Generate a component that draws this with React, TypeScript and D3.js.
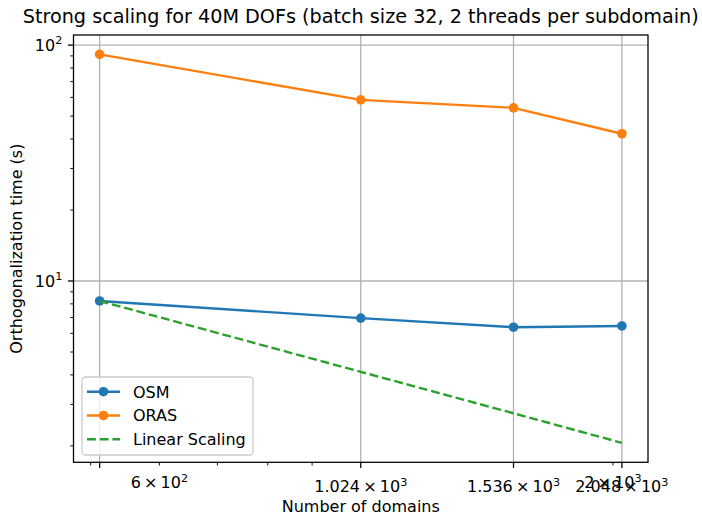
import React, { useEffect, useRef } from "react";
import * as d3 from "d3";

// data
const domains = [512, 1024, 1536, 2048];
const osmTime = [8.23, 6.96, 6.37, 6.45];
const orasTime = [91.3, 58.6, 54.2, 42.1];
const linearTime = [8.23, 4.12, 2.75, 2.06];

const seriesNames = ["OSM", "ORAS", "Linear Scaling"];
const seriesColors = ["#1f77b4", "#ff7f0e", "#2ca02c"];

// tick setup (x axis has explicit major ticks, the 512 one is unlabelled)
const xMajorTicks = [512, 1024, 1536, 2048];
const xMajorLabels = [
  null,
  { m: "1.024", e: "3" },
  { m: "1.536", e: "3" },
  { m: "2.048", e: "3" },
];
const xMinorTicks = [500, 600, 700, 800, 900, 2000];
const xMinorLabels = [null, { m: "6", e: "2" }, null, null, null, { m: "2", e: "3" }];
const yMajorTicks = [10, 100];
const yMajorLabels = ["1", "2"];
const yMinorTicks = [2, 3, 4, 5, 6, 7, 8, 9, 20, 30, 40, 50, 60, 70, 80, 90];

const titleText = "Strong scaling for 40M DOFs (batch size 32, 2 threads per subdomain)";
const xTitle = "Number of domains";
const yTitle = "Orthogonalization time (s)";

const W = 702;
const H = 516;
const FONT = "DejaVu Sans, sans-serif";
const PT = 1.6; // px per point, the figure was saved at ~115 dpi

const App = () => {
  const svgRef = useRef<SVGSVGElement>(null);

  useEffect(() => {
    const svg = d3.select(svgRef.current);
    svg.selectAll("*").remove();

    const margin = { top: 35, right: 54, bottom: 53.7, left: 73.5 };
    const x0 = margin.left;
    const x1 = W - margin.right;
    const y0 = H - margin.bottom;
    const y1 = margin.top;

    // matplotlib style 5% margins in log space
    const padLog = (vals: number[]) => {
      const [lo, hi] = d3.extent(vals.map(Math.log10)) as [number, number];
      const p = (hi - lo) * 0.05;
      return [Math.pow(10, lo - p), Math.pow(10, hi + p)];
    };

    const xScale = d3.scaleLog().domain(padLog(domains)).range([x0, x1]);
    const yScale = d3
      .scaleLog()
      .domain(padLog([...osmTime, ...orasTime, ...linearTime]))
      .range([y0, y1]);

    svg.append("rect").attr("width", W).attr("height", H).attr("fill", "white");

    // grid
    const grid = svg.append("g").attr("stroke", "#b0b0b0").attr("stroke-width", 0.8 * PT);
    xMajorTicks.forEach((t) => {
      grid.append("line").attr("x1", xScale(t)).attr("x2", xScale(t)).attr("y1", y0).attr("y2", y1);
    });
    yMajorTicks.forEach((t) => {
      grid.append("line").attr("x1", x0).attr("x2", x1).attr("y1", yScale(t)).attr("y2", yScale(t));
    });

    // series
    const line = d3
      .line<number>()
      .x((d, i) => xScale(domains[i]))
      .y((d) => yScale(d));

    const dash = `${3.7 * 1.5 * PT},${1.6 * 1.5 * PT}`;
    const series = [osmTime, orasTime, linearTime];
    series.forEach((vals, si) => {
      const path = svg
        .append("path")
        .datum(vals)
        .attr("d", line)
        .attr("fill", "none")
        .attr("stroke", seriesColors[si])
        .attr("stroke-width", 1.5 * PT);
      if (si === 2) {
        path.attr("stroke-dasharray", dash);
      } else {
        svg
          .append("g")
          .selectAll("circle")
          .data(vals)
          .join("circle")
          .attr("cx", (d, i) => xScale(domains[i]))
          .attr("cy", (d) => yScale(d))
          .attr("r", 3 * PT)
          .attr("fill", seriesColors[si]);
      }
    });

    // spines
    svg
      .append("rect")
      .attr("x", x0)
      .attr("y", y1)
      .attr("width", x1 - x0)
      .attr("height", y0 - y1)
      .attr("fill", "none")
      .attr("stroke", "black")
      .attr("stroke-width", 0.8 * PT);

    // ticks
    const ticks = svg.append("g").attr("stroke", "black");
    xMajorTicks.forEach((t) => {
      ticks.append("line").attr("x1", xScale(t)).attr("x2", xScale(t)).attr("y1", y0).attr("y2", y0 + 3.5 * PT).attr("stroke-width", 0.8 * PT);
    });
    xMinorTicks.forEach((t) => {
      ticks.append("line").attr("x1", xScale(t)).attr("x2", xScale(t)).attr("y1", y0).attr("y2", y0 + 2 * PT).attr("stroke-width", 0.6 * PT);
    });
    yMajorTicks.forEach((t) => {
      ticks.append("line").attr("x1", x0 - 3.5 * PT).attr("x2", x0).attr("y1", yScale(t)).attr("y2", yScale(t)).attr("stroke-width", 0.8 * PT);
    });
    yMinorTicks.forEach((t) => {
      ticks.append("line").attr("x1", x0 - 2 * PT).attr("x2", x0).attr("y1", yScale(t)).attr("y2", yScale(t)).attr("stroke-width", 0.6 * PT);
    });

    // scientific labels like 1.024×10^3
    const sciLabel = (g: any, lab: { m: string; e: string }, px: number, py: number) => {
      const t = g
        .append("text")
        .attr("x", px)
        .attr("y", py)
        .attr("text-anchor", "middle")
        .attr("font-family", FONT)
        .attr("font-size", 16)
        .attr("fill", "black");
      t.append("tspan").text(`${lab.m}\u2009×\u200910`);
      t.append("tspan").attr("dy", -6.5).attr("font-size", 11.2).text(lab.e);
    };

    const labels = svg.append("g");
    xMajorTicks.forEach((t, i) => {
      const lab = xMajorLabels[i];
      if (lab) sciLabel(labels, lab, xScale(t), 492);
    });
    xMinorTicks.forEach((t, i) => {
      const lab = xMinorLabels[i];
      if (lab) sciLabel(labels, lab, xScale(t), 488);
    });
    yMajorTicks.forEach((t, i) => {
      const txt = labels
        .append("text")
        .attr("x", x0 - 7 * PT)
        .attr("y", yScale(t) + 5.8)
        .attr("text-anchor", "end")
        .attr("font-family", FONT)
        .attr("font-size", 16);
      txt.append("tspan").text("10");
      txt.append("tspan").attr("dy", -6.5).attr("font-size", 11.2).text(yMajorLabels[i]);
    });

    // titles
    svg
      .append("text")
      .attr("x", (x0 + x1) / 2)
      .attr("y", 23)
      .attr("text-anchor", "middle")
      .attr("font-family", FONT)
      .attr("font-size", 19.2)
      .text(titleText);
    svg
      .append("text")
      .attr("x", (x0 + x1) / 2)
      .attr("y", 512)
      .attr("text-anchor", "middle")
      .attr("font-family", FONT)
      .attr("font-size", 16)
      .text(xTitle);
    svg
      .append("text")
      .attr("transform", `translate(22,${(y0 + y1) / 2}) rotate(-90)`)
      .attr("text-anchor", "middle")
      .attr("font-family", FONT)
      .attr("font-size", 16)
      .text(yTitle);

    // legend
    const legend = svg.append("g").attr("transform", "translate(82,377)");
    legend
      .append("rect")
      .attr("width", 171)
      .attr("height", 78)
      .attr("rx", 3.5)
      .attr("fill", "white")
      .attr("fill-opacity", 0.8)
      .attr("stroke", "#cccccc")
      .attr("stroke-width", 1.3);
    seriesNames.forEach((name, i) => {
      const ly = 14.7 + i * 23.8;
      const hl = legend
        .append("line")
        .attr("x1", 5)
        .attr("x2", 38)
        .attr("y1", ly)
        .attr("y2", ly)
        .attr("stroke", seriesColors[i])
        .attr("stroke-width", 1.5 * PT);
      if (i === 2) hl.attr("stroke-dasharray", dash);
      else legend.append("circle").attr("cx", 21.5).attr("cy", ly).attr("r", 3 * PT).attr("fill", seriesColors[i]);
      legend
        .append("text")
        .attr("x", 51)
        .attr("y", ly + 5.8)
        .attr("font-family", FONT)
        .attr("font-size", 16)
        .text(name);
    });
  }, []);

  return <svg ref={svgRef} width={W} height={H} style={{ position: "absolute", left: 0, top: 0 }} />;
};

export default App;
